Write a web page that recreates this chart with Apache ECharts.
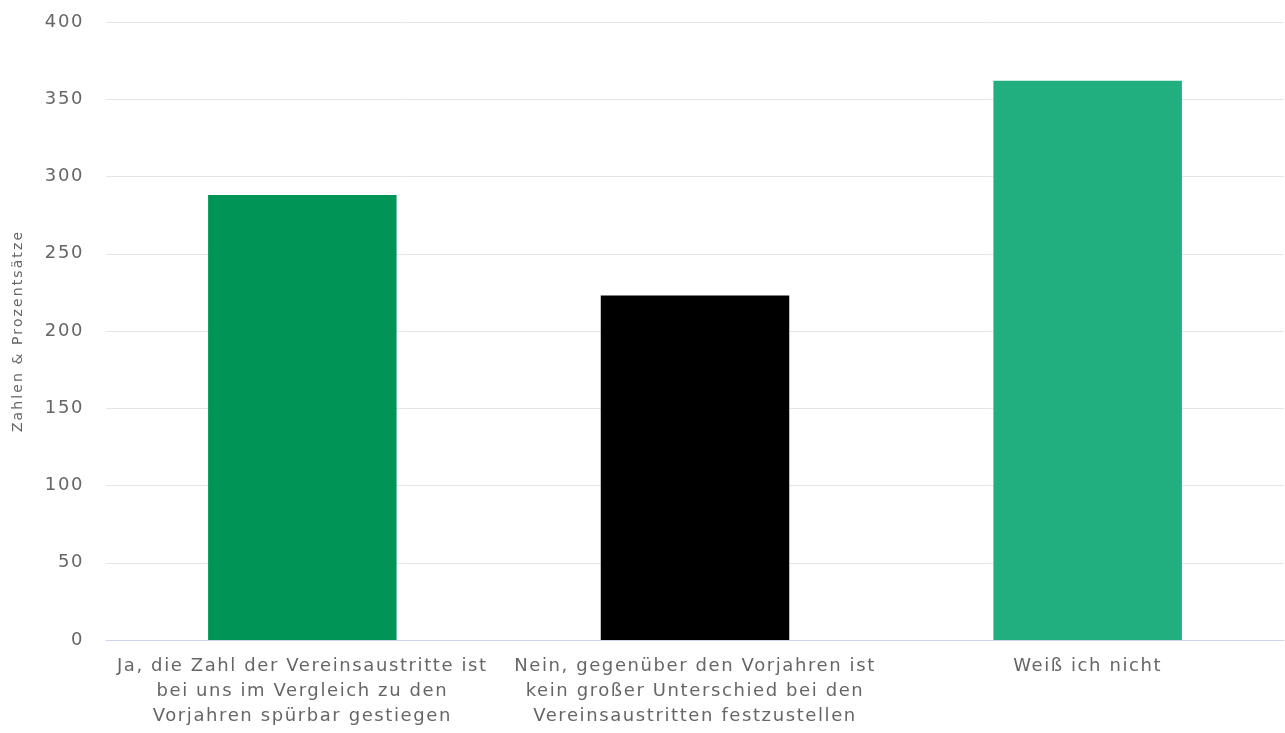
<!DOCTYPE html>
<html><head><meta charset="utf-8">
<script src="https://cdn.jsdelivr.net/npm/echarts@6/dist/echarts.min.js"></script>
<style>html,body{margin:0;padding:0;background:#fff}#c{width:1285px;height:733px}</style>
</head><body><div id="c"></div>
<script>
const categories = [
  "Ja, die Zahl der Vereinsaustritte ist\nbei uns im Vergleich zu den\nVorjahren spürbar gestiegen",
  "Nein, gegenüber den Vorjahren ist\nkein großer Unterschied bei den\nVereinsaustritten festzustellen",
  "Weiß ich nicht"
];
const values = [288, 223, 362];
const barColors = ["#009557", "#000000", "#21af80"];
const yTicks = [0, 50, 100, 150, 200, 250, 300, 350, 400];
const yAxisTitle = "Zahlen & Prozentsätze";

// loose letter spacing like the reference typography
(function () {
  const proto = CanvasRenderingContext2D.prototype;
  const orig = proto.fillText;
  proto.fillText = function (t, x, y, w) {
    if ('letterSpacing' in this) {
      this.letterSpacing = /\b14px/.test(this.font) ? '2.1px' : '1.6px';
    }
    const r = w === undefined ? orig.call(this, t, x, y) : orig.call(this, t, x, y, w);
    if ('letterSpacing' in this) this.letterSpacing = '0px';
    return r;
  };
})();

const chart = echarts.init(document.getElementById('c'), null, {renderer: 'canvas'});
chart.setOption({
  animation: false,
  grid: {left: 106, right: 1, top: 22, bottom: 93, containLabel: false, outerBoundsMode: 'none'},
  xAxis: {
    type: 'category',
    data: categories,
    axisLine: {lineStyle: {color: '#ccd6eb', width: 1}},
    axisTick: {show: false},
    axisLabel: {color: '#666666', fontFamily: 'DejaVu Sans', fontSize: 18, lineHeight: 25, margin: 14, interval: 0}
  },
  yAxis: {
    type: 'value',
    min: yTicks[0], max: yTicks[yTicks.length - 1], interval: 50,
    name: yAxisTitle,
    nameLocation: 'middle',
    nameGap: 81,
    nameTextStyle: {color: '#666666', fontFamily: 'DejaVu Sans', fontSize: 14},
    axisLine: {show: false},
    axisTick: {show: false},
    splitLine: {lineStyle: {color: '#e6e6e6', width: 1}},
    axisLabel: {color: '#666666', fontFamily: 'DejaVu Sans', fontSize: 18, margin: 22}
  },
  series: [{
    type: 'bar',
    data: values.map((v, i) => ({value: v, itemStyle: {color: barColors[i]}})),
    barWidth: '48%'
  }]
});
</script></body></html>
